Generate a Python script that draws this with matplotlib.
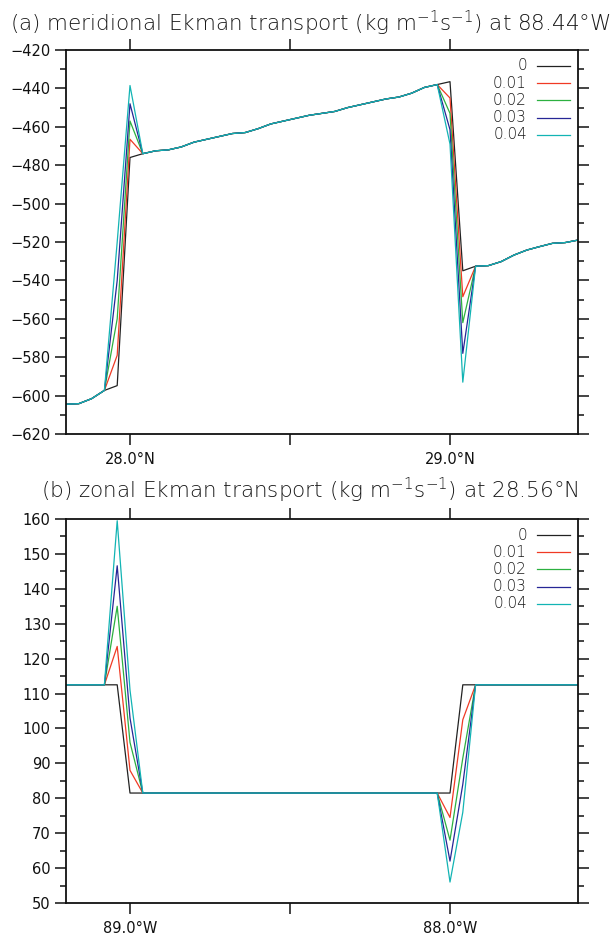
import numpy as np
import matplotlib
matplotlib.use("Agg")
import matplotlib.pyplot as plt
from matplotlib.ticker import MultipleLocator, FixedLocator, FixedFormatter

plt.rcParams["mathtext.default"] = "regular"

# diffusion coefficients shown in the legend
coefs = ["0", "0.01", "0.02", "0.03", "0.04"]
colors = ["#222222", "#f03a24", "#2cb040", "#262696", "#12b4b4"]

# ---- panel (a): meridional transport along 88.44W, 0.04 deg grid ----
lat = np.linspace(27.8, 29.4, 41)
merid_black = [
    -604.5, -604.2, -601.6, -597.3, -594.8, -476.0,
    -474.0, -472.5, -472.0, -470.5, -468.0, -466.5, -465.0, -463.5,
    -463.0, -461.0, -458.5, -457.0, -455.5, -454.0, -453.0, -452.0,
    -450.0, -448.5, -447.0, -445.5, -444.5, -442.5, -439.5, -438.0,
    -436.5, -535.0,
    -532.6, -532.3, -530.2, -526.8, -524.2, -522.4, -520.7, -520.3, -519.0,
]
# values at 27.96, 28.00 (left step) and 29.00, 29.04 (right step), per coef
merid_left = [[-579.0, -466.5], [-560.0, -457.0], [-540.0, -448.0], [-520.0, -438.5]]
merid_right = [[-445.0, -548.5], [-453.0, -562.0], [-461.5, -578.0], [-469.0, -593.0]]

# ---- panel (b): zonal transport along 28.56N ----
lon = np.linspace(-89.2, -87.6, 41)
zonal_black = [112.5] * 5 + [81.5] * 26 + [112.5] * 10
# values at 89.04W, 89.00W (left step) and 88.00W, 87.96W (right step)
zonal_left = [[123.5, 88.0], [135.0, 96.0], [146.6, 103.0], [159.5, 111.0]]
zonal_right = [[74.5, 102.5], [68.0, 91.5], [62.0, 84.0], [56.0, 76.0]]


def build(black, left, right, il, ir):
    # coloured runs equal the black run except around the two steps
    out = [np.array(black, dtype=float)]
    for lv, rv in zip(left, right):
        y = np.array(black, dtype=float)
        y[il:il + 2] = lv
        y[ir:ir + 2] = rv
        out.append(y)
    return out


merid = build(merid_black, merid_left, merid_right, 4, 30)
zonal = build(zonal_black, zonal_left, zonal_right, 4, 30)

W, H = 615, 935
fig = plt.figure(figsize=(W / 100, H / 100), dpi=100)

tick_family = "DejaVu Sans"
thin_family = "DejaVu Sans"
text_color = "#1a1a1a"


def style(ax, xlim, ylim, xt, xl, ymaj, ymin):
    ax.set_xlim(*xlim)
    ax.set_ylim(*ylim)
    ax.xaxis.set_major_locator(FixedLocator(xt))
    ax.xaxis.set_major_formatter(FixedFormatter(xl))
    ax.yaxis.set_major_locator(MultipleLocator(ymaj))
    ax.yaxis.set_minor_locator(MultipleLocator(ymin))
    ax.tick_params(which="both", direction="out", top=True, right=True,
                   width=1.1, color="#111111")
    ax.tick_params(which="major", length=8, pad=3)
    ax.tick_params(axis="x", which="major", pad=5)
    ax.tick_params(which="minor", length=4.5)
    for lab in ax.get_xticklabels() + ax.get_yticklabels():
        lab.set_fontfamily(tick_family)
        lab.set_fontsize(10.5)
        lab.set_color("#111111")
    for s in ax.spines.values():
        s.set_linewidth(1.3)
        s.set_color("#111111")


def legend(ax):
    for k, (lab, c) in enumerate(zip(coefs, colors)):
        yy = 1 - (16 + 17.2 * k) / 384
        ax.text((527 - 66) / 512, yy, lab, transform=ax.transAxes,
                ha="right", va="center", fontsize=11, family=thin_family,
                fontweight="light", color=text_color)
        ax.plot([(537 - 66) / 512, (570 - 66) / 512], [yy, yy],
                transform=ax.transAxes, color=c, lw=0.9)


ax1 = fig.add_axes([66 / W, 1 - 434 / H, 512 / W, 384 / H])
for y, c in zip(merid, colors):
    ax1.plot(lat, y, color=c, lw=0.9)
style(ax1, (27.8, 29.4), (-620, -420), [28.0, 28.5, 29.0],
      ["28.0°N", "", "29.0°N"], 20, 10)
legend(ax1)

ax2 = fig.add_axes([66 / W, 1 - 903 / H, 512 / W, 384 / H])
for y, c in zip(zonal, colors):
    ax2.plot(lon, y, color=c, lw=0.9)
style(ax2, (-89.2, -87.6), (50, 160), [-89.0, -88.5, -88.0],
      ["89.0°W", "", "88.0°W"], 10, 5)
legend(ax2)

fig.text(310 / W, 1 - 23 / H,
         "(a) meridional Ekman transport (kg m$^{-1}$s$^{-1}$) at 88.44°W",
         ha="center", va="center", fontsize=15.5, family=thin_family,
         fontweight="light", color=text_color)
fig.text(310 / W, 1 - 490 / H,
         "(b) zonal Ekman transport (kg m$^{-1}$s$^{-1}$) at 28.56°N",
         ha="center", va="center", fontsize=15.5, family=thin_family,
         fontweight="light", color=text_color)

fig.savefig("out.png", dpi=100)
